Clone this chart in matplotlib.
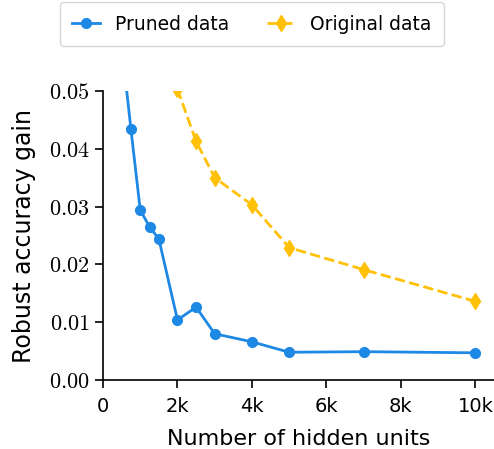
import numpy as np
import matplotlib
matplotlib.use("Agg")
import matplotlib.pyplot as plt
from matplotlib.ticker import FuncFormatter

plt.rcParams['mathtext.fontset'] = 'cm'
plt.rcParams['font.family'] = 'DejaVu Sans'

# data
pruned_units = [500, 750, 1000, 1250, 1500, 2000, 2500, 3000, 4000, 5000, 7000, 10000]
pruned_gain = [0.058, 0.0434, 0.0294, 0.0265, 0.0244, 0.0104, 0.0126, 0.0080, 0.0066, 0.0048, 0.0049, 0.0047]

orig_units = [2000, 2500, 3000, 4000, 5000, 7000, 10000]
orig_gain = [0.0503, 0.0413, 0.0350, 0.0303, 0.0229, 0.0191, 0.0136]

BLUE = '#1E88E5'
AMBER = '#FFC107'

fig = plt.figure(figsize=(4.94, 4.49), dpi=100)
ax = fig.add_axes([0.2085, 0.1537, 0.7915, 0.6436])

ax.plot(pruned_units, pruned_gain, color=BLUE, marker='o', markersize=7,
        linewidth=2, label='Pruned data')
ax.plot(orig_units, orig_gain, color=AMBER, marker='d', markersize=8,
        linewidth=2, linestyle='--', label='Original data')

ax.set_xlim(0, 10500)
ax.set_ylim(0, 0.05)
ax.set_xticks([0, 2000, 4000, 6000, 8000, 10000])
ax.set_xticklabels(['0', '2k', '4k', '6k', '8k', '10k'])
ax.set_yticks([0, 0.01, 0.02, 0.03, 0.04, 0.05])
ax.yaxis.set_major_formatter(FuncFormatter(lambda v, p: r'$%.2f$' % v))

ax.spines['top'].set_visible(False)
ax.spines['right'].set_visible(False)
ax.tick_params(axis='both', direction='out', length=6, width=1.2)
ax.tick_params(axis='x', labelsize=14, pad=6.5)
ax.tick_params(axis='y', labelsize=16)
for s in ['left', 'bottom']:
    ax.spines[s].set_linewidth(1.2)

ax.set_xlabel('Number of hidden units', fontsize=16, labelpad=9)
ax.set_ylabel('Robust accuracy gain', fontsize=17, labelpad=9)

fig.legend(loc='center', bbox_to_anchor=(0.51, 0.9465), ncol=2,
           fontsize=13.5, frameon=True, fancybox=True, edgecolor='#cccccc',
           borderpad=0.65, columnspacing=2.0, handlelength=1.5)

fig.savefig('out.png', dpi=100)
